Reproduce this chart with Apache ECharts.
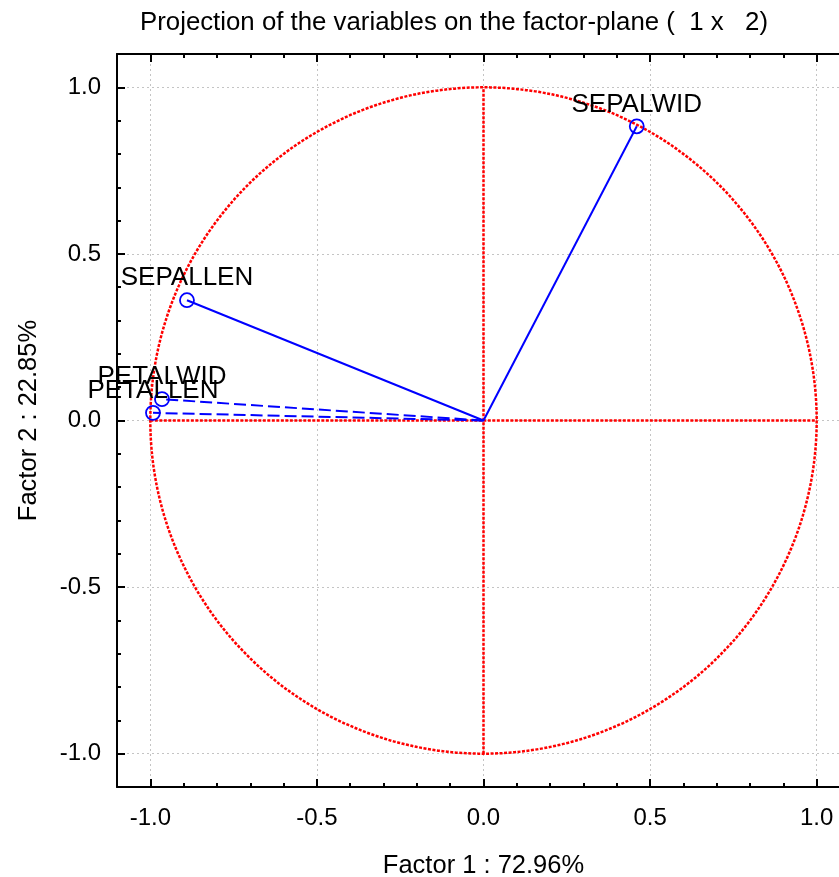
<!DOCTYPE html>
<html>
<head>
<meta charset="utf-8">
<script src="https://cdn.jsdelivr.net/npm/echarts@6/dist/echarts.min.js"></script>
<style>
html,body{margin:0;padding:0;background:#fff;}
#chart{width:839px;height:877px;}
</style>
</head>
<body>
<div id="chart"></div>
<script>
// ---- data ----
const variables = ['SEPALLEN', 'SEPALWID', 'PETALLEN', 'PETALWID'];
const factor1 = [-0.890, 0.460, -0.992, -0.965];
const factor2 = [0.361, 0.883, 0.023, 0.064];
const dashed = [false, false, true, true];
const xTickValues = [-1.0, -0.5, 0.0, 0.5, 1.0];
const yTickValues = [-1.0, -0.5, 0.0, 0.5, 1.0];
const xAxisTitle = 'Factor 1 : 72.96%';
const yAxisTitle = 'Factor 2 : 22.85%';
const chartTitle = 'Projection of the variables on the factor-plane (  1 x   2)';
const axisMin = -1.1, axisMax = 1.1;
const unitCircle = [[0, 0, 1]];          // centre x, centre y, radius
const crossH = [[-1, 0], [1, 0]];
const crossV = [[0, -1], [0, 1]];

const FONT = "'Liberation Sans', Arial, sans-serif";
const chart = echarts.init(document.getElementById('chart'), null, {renderer: 'canvas'});

function majorAxis(pos, values, withLabels, extra) {
  return Object.assign({
    type: 'value', position: pos, min: axisMin, max: axisMax,
    axisLine: {show: true, onZero: false, lineStyle: {color: '#000', width: 2}},
    axisTick: {show: true, inside: true, length: 8, customValues: values, lineStyle: {color: '#000', width: 2}},
    axisLabel: {show: withLabels, customValues: values, formatter: v => v.toFixed(1),
      fontSize: 24, color: '#000', fontFamily: FONT, margin: pos === 'bottom' ? 19 : 16},
    splitLine: {show: withLabels, lineStyle: {color: '#c4c4c4', width: 1, type: [2, 3]}}
  }, extra || {});
}
function minorAxis(pos) {
  return {
    type: 'value', position: pos, min: axisMin, max: axisMax, interval: 0.1,
    axisLine: {show: false, onZero: false},
    axisTick: {show: true, inside: true, length: 4, lineStyle: {color: '#000', width: 2}},
    axisLabel: {show: false}, splitLine: {show: false}
  };
}

const series = [];
series.push({
  type: 'custom', name: 'circle', xAxisIndex: 0, yAxisIndex: 0, silent: true, z: 3,
  data: unitCircle, clip: false,
  renderItem: function (params, api) {
    const c = api.coord([api.value(0), api.value(1)]);
    const r = api.size([api.value(2), 0])[0];
    return {type: 'circle', shape: {cx: c[0], cy: c[1], r: r},
      style: {fill: 'none', stroke: '#ff0000', lineWidth: 2.5, lineDash: [3, 1.5]}};
  }
});
[crossH, crossV].forEach(d => series.push({
  type: 'line', xAxisIndex: 0, yAxisIndex: 0, data: d, symbol: 'none', silent: true, z: 3,
  lineStyle: {color: '#ff0000', width: 2.5, type: [3, 1.5]}
}));
variables.forEach((name, i) => {
  series.push({
    type: 'line', name: name, xAxisIndex: 0, yAxisIndex: 0, z: 5,
    data: [
      {value: [0, 0], symbolSize: 0, label: {show: false}},
      {value: [factor1[i], factor2[i]]}
    ],
    symbol: 'circle', symbolSize: 14,
    itemStyle: {color: 'rgba(0,0,0,0)', borderColor: '#0000ff', borderWidth: 1.8},
    lineStyle: {color: '#0000ff', width: 2, type: dashed[i] ? [12, 5] : 'solid'},
    label: {show: true, position: 'top', distance: 1, formatter: name,
      fontSize: 26, color: '#000', fontFamily: FONT}
  });
});

chart.setOption({
  animation: false,
  backgroundColor: '#fff',
  textStyle: {fontFamily: FONT},
  title: {text: chartTitle, left: 140, top: 10, padding: 0,
    textStyle: {fontSize: 25.8, fontWeight: 'normal', color: '#000', fontFamily: FONT}},
  grid: {left: 117, top: 54, width: 733, height: 733, containLabel: false, outerBoundsMode: 'none'},
  xAxis: [
    majorAxis('bottom', xTickValues, true, {name: xAxisTitle, nameLocation: 'middle', nameGap: 66,
      nameTextStyle: {fontSize: 25.5, color: '#000', fontFamily: FONT}}),
    majorAxis('top', xTickValues, false),
    minorAxis('bottom'),
    minorAxis('top')
  ],
  yAxis: [
    majorAxis('left', yTickValues, true, {name: yAxisTitle, nameLocation: 'middle', nameGap: 75, nameRotate: 90,
      nameTextStyle: {fontSize: 25.5, color: '#000', fontFamily: FONT}}),
    minorAxis('left')
  ],
  series: series
});
</script>
</body>
</html>
